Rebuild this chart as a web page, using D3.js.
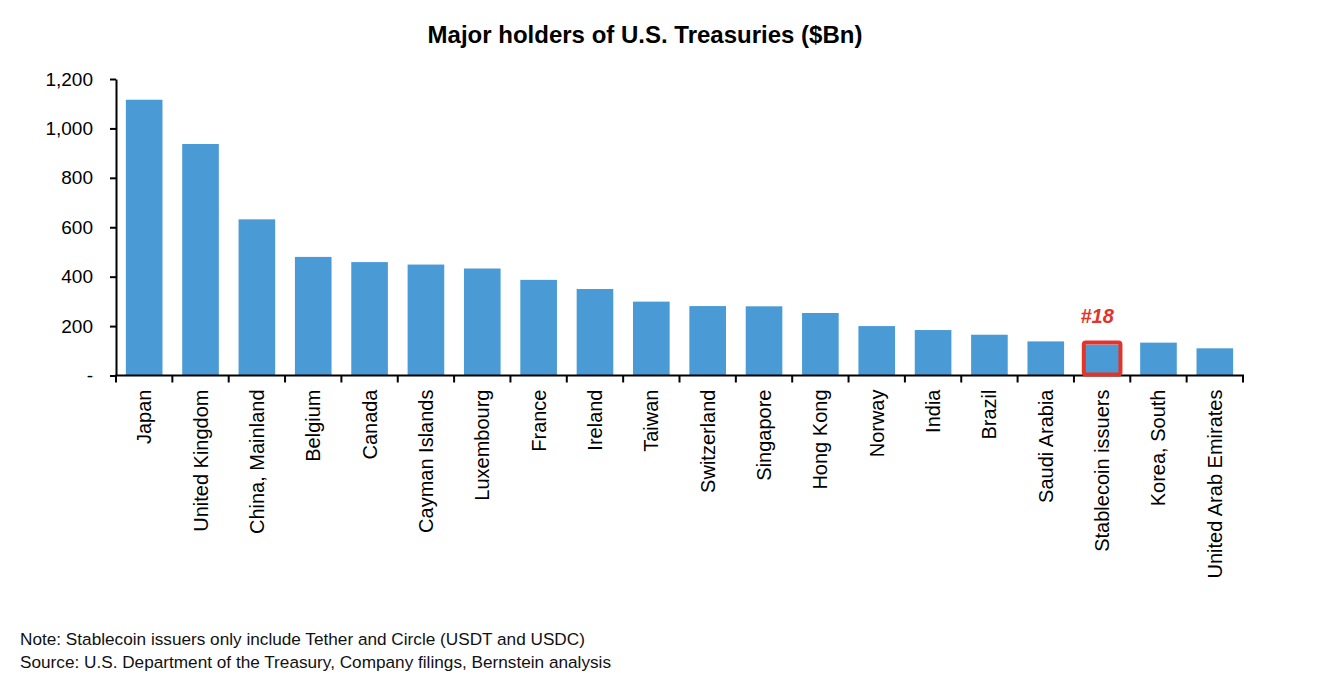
<!DOCTYPE html>
<html>
<head>
<meta charset="utf-8">
<script src="https://cdn.jsdelivr.net/npm/d3@7"></script>
<style>
  body { margin: 0; background: #fff; }
  svg { font-family: 'Liberation Sans', Arial, sans-serif; }
  .axis path, .axis line { stroke: #000; stroke-width: 2; }
  .axis text { fill: #000; font-size: 19px; }
  .axis-x text { font-size: 20px; }
</style>
</head>
<body>
<svg id="chart" width="1324" height="694"></svg>
<script>
// Holders, sorted as in the source chart
const holders = ['Japan', 'United Kingdom', 'China, Mainland', 'Belgium', 'Canada',
  'Cayman Islands', 'Luxembourg', 'France', 'Ireland', 'Taiwan', 'Switzerland',
  'Singapore', 'Hong Kong', 'Norway', 'India', 'Brazil', 'Saudi Arabia',
  'Stablecoin issuers', 'Korea, South', 'United Arab Emirates']
const holdings = [1116, 937, 632, 480, 459, 449, 433, 387, 350, 299, 281,
  280, 253, 200, 184, 165, 138, 125, 133, 110]
const yTicks = [0, 200, 400, 600, 800, 1000, 1200]
const highlight = { name: 'Stablecoin issuers', label: '#18' }

const data = holders.map((name, i) => ({ name, value: holdings[i] }))

const svg = d3.select('#chart')
const plotLeft = 116
const plotRight = 1243
const plotTop = 79
const plotBottom = 375.5

const x = d3.scaleBand()
  .domain(holders)
  .range([plotLeft, plotRight])
  .paddingInner(0.35)
  .paddingOuter(0.175)

const y = d3.scaleLinear()
  .domain([0, 1200])
  .range([plotBottom, plotTop])

// Title
svg.append('text')
  .attr('x', 645)
  .attr('y', 43)
  .attr('text-anchor', 'middle')
  .style('font-size', '24px')
  .style('font-weight', 'bold')
  .text('Major holders of U.S. Treasuries ($Bn)')

// Bars
svg.append('g')
  .selectAll('rect')
  .data(data)
  .join('rect')
  .attr('x', d => x(d.name))
  .attr('y', d => y(d.value))
  .attr('width', x.bandwidth())
  .attr('height', d => y(0) - y(d.value))
  .attr('fill', '#4a9bd5')

// Y axis
const yAxis = d3.axisLeft(y)
  .tickValues(yTicks)
  .tickFormat(d => d === 0 ? '-' : d3.format(',')(d))
  .tickSize(6)
  .tickSizeOuter(0)
  .tickPadding(17)

svg.append('g')
  .attr('class', 'axis axis-y')
  .attr('transform', `translate(${plotLeft},0)`)
  .call(yAxis)

// X axis: labels at band centres, ticks at band boundaries
const xAxis = d3.axisBottom(x)
  .tickSize(0)
  .tickSizeOuter(0)

const xGroup = svg.append('g')
  .attr('class', 'axis axis-x')
  .attr('transform', `translate(0,${plotBottom})`)
  .call(xAxis)

xGroup.select('.domain')
  .attr('d', `M${plotLeft - 1},0H${plotRight + 1}`)

xGroup.selectAll('.tick text')
  .attr('transform', 'rotate(-90)')
  .attr('text-anchor', 'end')
  .attr('x', -14)
  .attr('y', 0)
  .attr('dy', '0.35em')

const gap = x.step() * x.paddingInner() / 2
const bounds = holders.map(d => x(d) - gap).concat([plotRight])
xGroup.selectAll('.bound')
  .data(bounds)
  .join('line')
  .attr('class', 'bound')
  .attr('x1', d => d)
  .attr('x2', d => d)
  .attr('y1', 0)
  .attr('y2', 7)

// Highlight box around stablecoin issuers
const hv = data.find(d => d.name === highlight.name)
svg.append('rect')
  .attr('x', x(hv.name))
  .attr('y', y(hv.value) - 2)
  .attr('width', x.bandwidth())
  .attr('height', y(0) - y(hv.value) + 1)
  .attr('rx', 2)
  .attr('fill', 'none')
  .attr('stroke', '#e3342a')
  .attr('stroke-width', 4)

svg.append('text')
  .attr('x', x(hv.name) + x.bandwidth() / 2 - 5)
  .attr('y', y(hv.value) - 22)
  .attr('text-anchor', 'middle')
  .style('font-size', '20px')
  .style('font-weight', 'bold')
  .style('font-style', 'italic')
  .style('fill', '#e3342a')
  .text(highlight.label)

// Footnotes
const notes = [
  'Note: Stablecoin issuers only include Tether and Circle (USDT and USDC)',
  'Source: U.S. Department of the Treasury, Company filings, Bernstein analysis'
]
svg.append('g')
  .selectAll('text')
  .data(notes)
  .join('text')
  .attr('x', 20)
  .attr('y', (d, i) => 645 + i * 23)
  .style('font-size', '17.2px')
  .style('fill', '#111')
  .text(d => d)
</script>
</body>
</html>
